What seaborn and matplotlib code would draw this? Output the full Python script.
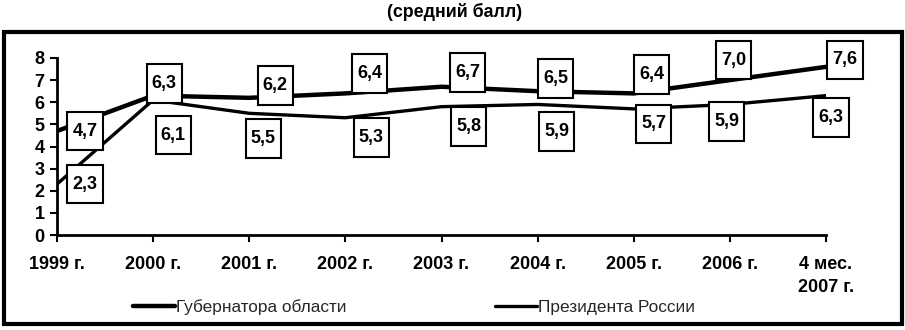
import numpy as np
import pandas as pd
import matplotlib
matplotlib.use("Agg")
import matplotlib.pyplot as plt
import seaborn as sns
from matplotlib.path import Path
from matplotlib.patches import Rectangle

# ---- data ----
periods = ["1999 г.", "2000 г.", "2001 г.", "2002 г.", "2003 г.",
           "2004 г.", "2005 г.", "2006 г.", "4 мес.\n2007 г."]
governor = [4.7, 6.3, 6.2, 6.4, 6.7, 6.5, 6.4, 7.0, 7.6]
president = [2.3, 6.1, 5.5, 5.3, 5.8, 5.9, 5.7, 5.9, 6.3]
series_names = ["Губернатора области", "Президента России"]
title = "(средний балл)"

# label offsets (pixels, right / down) relative to each point
gov_offsets = [(28, 0), (11, -12), (26, -12), (24, -20), (26, -14),
               (18, -13), (18, -19), (4, -20), (19, -7)]
pres_offsets = [(28, 0), (20, 35), (14, 25), (26, 20), (27, 20),
                (19, 27), (20, 15), (-3, 17), (5, 22)]

sns.set_theme(style="white")
plt.rcParams["font.family"] = ["Liberation Sans", "DejaVu Sans"]

fig = plt.figure(figsize=(9.05, 3.3), dpi=100)
ax = fig.add_axes([57 / 905, 95 / 330, 769 / 905, 177 / 330])

df = pd.DataFrame({"pos": np.arange(len(periods)),
                   "gov": governor, "pres": president})

sns.lineplot(data=df, x="pos", y="gov", ax=ax, color="black", lw=3.2,
             label=series_names[0], legend=False, zorder=2)
sns.lineplot(data=df, x="pos", y="pres", ax=ax, color="black", lw=2.4,
             label=series_names[1], legend=False, zorder=2)

ax.set_xlim(0, len(periods) - 1)
ax.set_ylim(0, 8)
ax.set_xticks(range(len(periods)))
ax.set_xticklabels(periods)
ax.set_yticks(range(0, 9))
ax.set_xlabel("")
ax.set_ylabel("")

for s in ["top", "right"]:
    ax.spines[s].set_visible(False)
for s in ["left", "bottom"]:
    ax.spines[s].set_visible(True)
    ax.spines[s].set_color("black")
    ax.spines[s].set_linewidth(2)

ax.tick_params(axis="x", bottom=True, direction="out", length=5, width=1.5,
               color="black", labelsize=13, pad=10)
ax.tick_params(axis="y", left=True, direction="out", length=5, width=1.5,
               color="black", labelsize=13, pad=4)
for lbl in ax.get_xticklabels() + ax.get_yticklabels():
    lbl.set_fontweight("bold")
    lbl.set_color("black")
for lbl in ax.get_xticklabels():
    lbl.set_linespacing(1.5)
    lbl.set_verticalalignment("top")


def tallbox(x0, y0, width, height, mutation_size):
    px = 0.28 * mutation_size
    py = 0.6 * mutation_size
    x0 -= px
    y0 -= py
    w = width + 2 * px
    h = height + 2 * py
    return Path([(x0, y0), (x0 + w, y0), (x0 + w, y0 + h), (x0, y0 + h), (x0, y0)],
                closed=True)


def add_labels(values, offsets):
    for i, (v, (dx, dy)) in enumerate(zip(values, offsets)):
        ax.annotate(f"{v:.1f}".replace(".", ","), xy=(i, v), xytext=(dx, -dy),
                    textcoords="offset pixels", ha="center", va="center",
                    fontsize=13, fontweight="bold", color="black",
                    bbox=dict(boxstyle=tallbox, fc="white", ec="black", lw=1.5),
                    zorder=5, annotation_clip=False)


add_labels(governor, gov_offsets)
add_labels(president, pres_offsets)

handles = ax.get_lines()[:2]
fig.legend(handles, series_names, loc="center left",
           bbox_to_anchor=(133 / 905, 1 - 307 / 330), ncol=2, frameon=False,
           handlelength=2.45, handletextpad=0.05, columnspacing=8.6,
           borderpad=0, borderaxespad=0, fontsize=12.4)

fig.text(455 / 905, 1 - 12 / 330, title, ha="center", va="center",
         fontsize=12.8, fontweight="bold", color="black")

fig.add_artist(Rectangle((4 / 905, 1 - 324 / 330), (902 - 4) / 905,
                         (324 - 32) / 330, transform=fig.transFigure,
                         fill=False, ec="black", lw=3))

fig.savefig("out.png", dpi=100)
